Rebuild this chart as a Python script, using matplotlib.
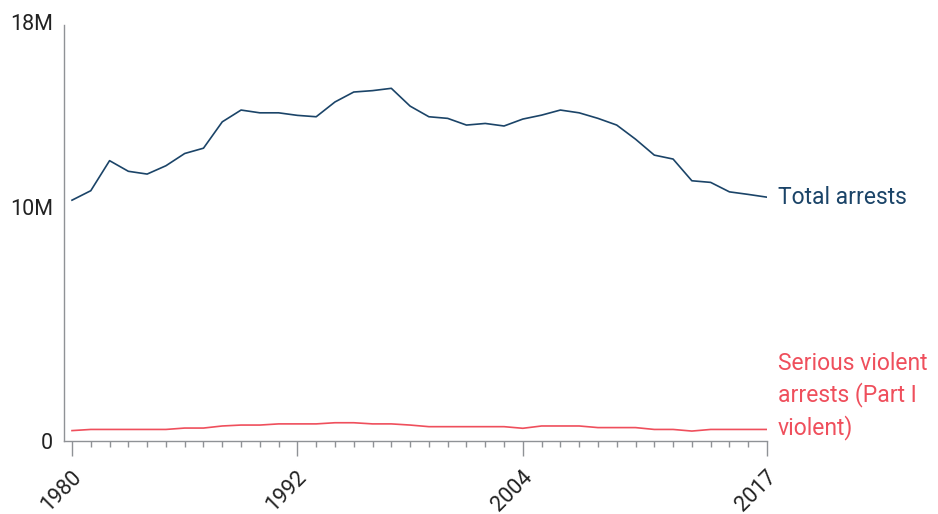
import matplotlib
matplotlib.use("Agg")
import matplotlib.pyplot as plt
from matplotlib.ticker import MultipleLocator, FixedLocator
from matplotlib.transforms import ScaledTranslation

plt.rcParams['font.family'] = ['Roboto', 'DejaVu Sans']

years = list(range(1980, 2018))
total_arrests = [10.42, 10.83, 12.13, 11.67, 11.55, 11.91, 12.44, 12.67, 13.81, 14.32,
                 14.20, 14.20, 14.09, 14.03, 14.67, 15.10, 15.16, 15.26, 14.49, 14.03,
                 13.96, 13.67, 13.74, 13.63, 13.93, 14.10, 14.32, 14.20, 13.96, 13.67,
                 13.06, 12.37, 12.20, 11.26, 11.19, 10.78, 10.67, 10.55]
violent_arrests = [0.45, 0.50, 0.50, 0.50, 0.50, 0.50, 0.56, 0.56, 0.65, 0.69,
                   0.69, 0.74, 0.74, 0.74, 0.79, 0.79, 0.74, 0.74, 0.69, 0.62,
                   0.62, 0.62, 0.62, 0.62, 0.55, 0.65, 0.65, 0.65, 0.58, 0.58,
                   0.58, 0.50, 0.50, 0.43, 0.50, 0.50, 0.50, 0.50]
major_years = [1980, 1992, 2004, 2017]
y_ticks = [0, 10, 18]
y_tick_labels = ['0', '10M', '18M']
total_label = 'Total arrests'
violent_label = 'Serious violent\narrests (Part I\nviolent)'

NAVY = '#1b4468'
RED = '#ef4f5c'
AXIS = '#8f9296'
TEXT = '#222222'

W, H = 938, 514
fig = plt.figure(figsize=(W / 100, H / 100), dpi=100)
left, right = 64, 767
top, bottom = 25, 441
ax = fig.add_axes([left / W, 1 - bottom / H, (right - left) / W, (bottom - top) / H])

ax.plot(years, total_arrests, color=NAVY, lw=1.2)
ax.plot(years, violent_arrests, color=RED, lw=1.2)

px_per_year = (767 - 72) / 37
ax.set_xlim(1980 - 8 / px_per_year, 2017)
ax.set_ylim(0, 18)

for s in ['top', 'right']:
    ax.spines[s].set_visible(False)
ax.spines['left'].set_color(AXIS)
ax.spines['bottom'].set_color(AXIS)
ax.spines['left'].set_linewidth(1.0)
ax.spines['bottom'].set_linewidth(1.0)

ax.xaxis.set_major_locator(FixedLocator(major_years))
ax.xaxis.set_minor_locator(MultipleLocator(1))
ax.tick_params(axis='x', which='major', length=11, width=1.0, color=AXIS,
               labelsize=15.5, labelcolor=TEXT, pad=12.5)
ax.tick_params(axis='x', which='minor', length=4.3, width=1.0, color=AXIS)
ax.set_xticklabels([str(y) for y in major_years], rotation=45, ha='right',
                   va='center', rotation_mode='anchor')
xshift = ScaledTranslation(6 / 100, 0, fig.dpi_scale_trans)
for lab in ax.get_xticklabels():
    lab.set_transform(lab.get_transform() + xshift)

ax.set_yticks(y_ticks)
ax.set_yticklabels(y_tick_labels)
ax.tick_params(axis='y', length=0, labelsize=15.5, labelcolor=TEXT, pad=8)
yshift = ScaledTranslation(0, 2.5 / 100, fig.dpi_scale_trans)
for lab in ax.get_yticklabels()[1:]:
    lab.set_transform(lab.get_transform() + yshift)

ax.text(2017 + 11 / px_per_year, total_arrests[-1], total_label, color=NAVY,
        fontsize=16.5, ha='left', va='center', clip_on=False)
ax.text(2017 + 11 / px_per_year, violent_arrests[-1] + 1.45, violent_label, color=RED,
        fontsize=16.5, ha='left', va='center', linespacing=1.4, clip_on=False)

fig.savefig('out.png', dpi=100)
